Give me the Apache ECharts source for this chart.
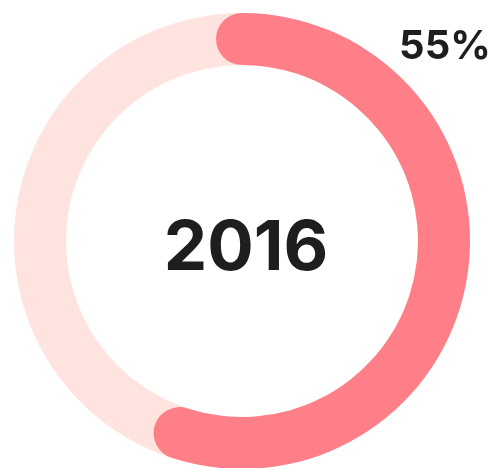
<!DOCTYPE html>
<html>
<head>
<meta charset="utf-8">
<script src="https://cdn.jsdelivr.net/npm/echarts@6/dist/echarts.min.js"></script>
<style>
    html, body { margin: 0; padding: 0; background: #fff; }
    #main { width: 494px; height: 468px; }
</style>
</head>
<body>
<div id="main"></div>
<script>
// values
var yearLabel = '2016';
var percentValue = [55];

var dom = document.getElementById('main');
var myChart = echarts.init(dom);

var option = {
    backgroundColor: '#ffffff',
    series: [
        {
            type: 'gauge',
            center: [242, 241],
            radius: 228,
            startAngle: 90,
            endAngle: -270,
            min: 0,
            max: 100,
            pointer: { show: false },
            anchor: { show: false },
            axisTick: { show: false },
            splitLine: { show: false },
            axisLabel: { show: false },
            axisLine: {
                lineStyle: {
                    width: 52,
                    color: [[1, '#fee3df']]
                }
            },
            progress: {
                show: true,
                width: 52,
                roundCap: true,
                itemStyle: { color: '#ff7f88' }
            },
            title: {
                offsetCenter: [4, 8],
                fontFamily: 'Inter',
                fontWeight: 'bold',
                fontSize: 69,
                color: '#1e1e1e'
            },
            detail: {
                offsetCenter: [203, -194],
                fontFamily: 'Inter',
                fontWeight: 'bold',
                fontSize: 40,
                color: '#1e1e1e',
                formatter: '{value}%'
            },
            data: [{ value: percentValue[0], name: yearLabel }]
        }
    ]
};

myChart.setOption(option);
</script>
</body>
</html>
